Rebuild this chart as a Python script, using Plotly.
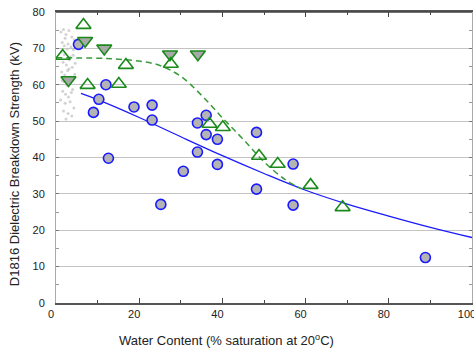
import plotly.graph_objects as go

# Blue circles (measured)
circ_x = [5.4, 10.3, 9.0, 12.0, 12.6, 18.75, 23.1, 23.1, 30.6, 25.2, 34.0, 36.1, 36.1, 38.8, 34.0, 38.8, 48.2, 57.0, 48.2, 57.0, 88.8]
circ_y = [71.1, 56.0, 52.4, 60.0, 39.8, 53.9, 54.4, 50.3, 36.2, 27.1, 49.5, 51.6, 46.3, 45.0, 41.5, 38.1, 46.9, 38.2, 31.3, 26.9, 12.5]

# Green open triangles (up)
tri_up_x = [6.6, 1.6, 7.6, 15.1, 16.8, 27.6, 36.9, 40.1, 48.8, 53.3, 61.2, 68.9]
tri_up_y = [76.4, 67.9, 59.9, 60.2, 65.4, 65.7, 49.2, 48.3, 40.4, 38.2, 32.4, 26.3]

# Green filled triangles (down)
tri_dn_x = [7.0, 3.0, 11.6, 27.4, 34.1]
tri_dn_y = [72.1, 61.3, 70.0, 68.4, 68.4]

# Blue fit curve
blue_fit_x = [6, 10, 20, 30, 40, 50, 60, 70, 80, 90, 100]
blue_fit_y = [57.6, 55.9, 51.0, 45.7, 40.5, 35.6, 31.0, 27.2, 23.9, 20.8, 18.0]

# Green dashed fit curve
green_fit_x = [0, 10, 15, 20, 25, 30, 35, 40, 45, 50, 55, 59]
green_fit_y = [67.4, 67.3, 67.0, 66.5, 65.3, 62.3, 57.1, 50.9, 45.0, 38.8, 34.0, 31.4]

# Gray cloud of small dots near dry end
cloud_x = [1.2, 1.8, 2.4, 3.1, 3.8, 4.4, 1.5, 2.2, 2.9, 3.6, 4.2, 4.8, 1.3, 2.0, 2.7, 3.4, 4.1,
           1.7, 2.5, 3.2, 3.9, 4.6, 1.4, 2.1, 2.8, 3.5, 1.9, 2.6, 3.3, 4.0, 1.6, 2.3, 3.0, 3.7,
           1.1, 2.2, 3.4, 4.3, 1.8, 2.9, 3.8, 2.4, 1.5, 3.1, 4.5, 2.0]
cloud_y = [74.5, 75.2, 73.8, 74.9, 73.1, 72.4, 71.6, 72.8, 71.2, 70.4, 69.6, 71.9, 69.0, 68.3, 69.8, 67.6, 68.1,
           66.2, 65.4, 66.9, 64.8, 65.9, 63.5, 62.7, 63.9, 62.1, 60.8, 59.9, 61.4, 58.7, 58.2, 57.4, 56.6, 57.9,
           55.8, 54.9, 55.3, 53.6, 52.8, 52.1, 51.4, 50.6, 61.2, 64.3, 62.9, 70.7]

xt_vals = [0, 20, 40, 60, 80, 100]
yt_vals = [0, 10, 20, 30, 40, 50, 60, 70, 80]
x_title = "Water Content (% saturation at 20<sup>o</sup>C)"
y_title = "D1816 Dielectric Breakdown Strength (kV)"

green = "#1a8a1a"
blue = "#1a1aff"

fig = go.Figure()
fig.add_trace(go.Scatter(x=cloud_x, y=cloud_y, mode="markers",
                         marker=dict(size=3, color="#c4c4c4", opacity=0.75), hoverinfo="skip"))
fig.add_trace(go.Scatter(x=blue_fit_x, y=blue_fit_y, mode="lines", line=dict(color=blue, width=1.3, shape="spline")))
fig.add_trace(go.Scatter(x=green_fit_x, y=green_fit_y, mode="lines",
                         line=dict(color="#3a9a3a", width=1.5, dash="6px,4px", shape="spline")))
fig.add_trace(go.Scatter(x=circ_x, y=circ_y, mode="markers",
                         marker=dict(symbol="circle", size=10, color="#b4b4b4", line=dict(color=blue, width=1.6))))
fig.add_trace(go.Scatter(x=tri_dn_x, y=tri_dn_y, mode="markers",
                         marker=dict(symbol="triangle-down", size=13, color="#a8a8a8", line=dict(color=green, width=1.6))))
fig.add_trace(go.Scatter(x=tri_up_x, y=tri_up_y, mode="markers",
                         marker=dict(symbol="triangle-up-open", size=13, color=green, line=dict(color=green, width=1.6))))

fig.update_layout(
    width=474, height=350,
    margin=dict(l=56, r=2, t=12, b=47, autoexpand=False),
    plot_bgcolor="white", paper_bgcolor="white",
    showlegend=False,
    font=dict(family="Liberation Sans, Arial, sans-serif", size=11, color="#222"),
    xaxis=dict(range=[0, 100], tickvals=xt_vals, ticktext=[str(v) for v in xt_vals],
               ticks="inside", ticklen=5, tickcolor="#444", showgrid=False, zeroline=False,
               showline=True, linecolor="#555", linewidth=1.5, mirror="allticks",
               minor=dict(dtick=10, ticks="inside", ticklen=3, tickcolor="#444"),
               ticklabelshift=-5, ticklabeloverflow="allow", automargin=False),
    yaxis=dict(range=[0, 80], tickvals=yt_vals, ticktext=[str(v) for v in yt_vals],
               ticks="inside", ticklen=3, tickcolor="#777", showgrid=True, gridcolor="#c4c4c4", gridwidth=1,
               zeroline=False, showline=True, linecolor="#aaa", linewidth=1, mirror="allticks",
               minor=dict(dtick=5, ticks="inside", ticklen=3, tickcolor="#999"),
               ticklabelstandoff=8, automargin=False),
)
fig.add_shape(type="line", xref="paper", yref="paper", x0=0, x1=1, y0=1, y1=1,
              line=dict(color="#444", width=1.5))
fig.add_annotation(text=x_title, xref="paper", yref="paper", x=0.411, y=-0.128,
                   xanchor="center", yanchor="middle", showarrow=False, font=dict(size=13))
fig.add_annotation(text=y_title, xref="paper", yref="paper", x=-0.101, y=0.477, textangle=-90,
                   xanchor="center", yanchor="middle", showarrow=False, font=dict(size=13))

fig.write_html("out.html", config={"responsive": False, "displayModeBar": False},
               post_script="document.body.style.margin='0';document.body.style.padding='0';document.body.style.overflow='hidden';")
